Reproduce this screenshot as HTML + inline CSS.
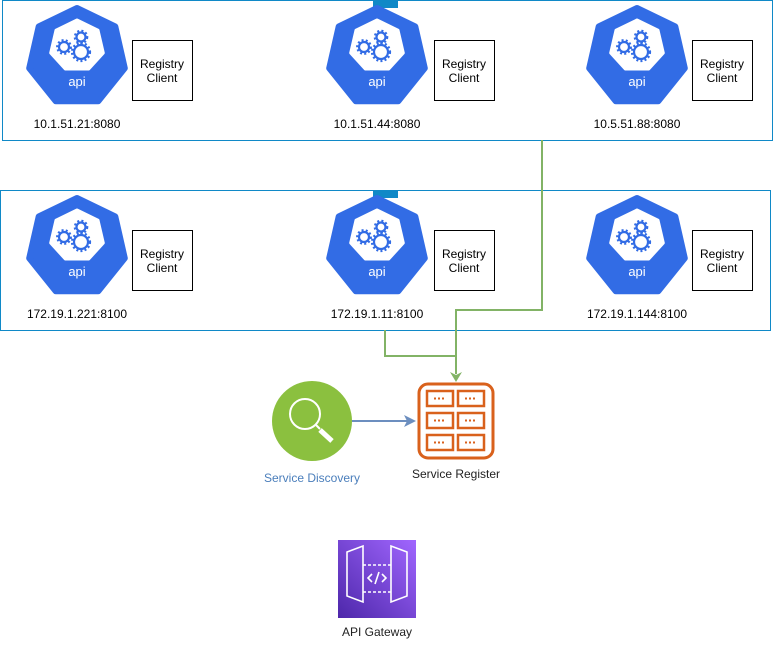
<!DOCTYPE html>
<html><head><meta charset="utf-8"><style>
html,body{margin:0;padding:0;background:#fff;}
svg text{font-family:"Liberation Sans",Arial,sans-serif;}
</style></head><body>
<svg width="773" height="640" viewBox="0 0 773 640" xmlns="http://www.w3.org/2000/svg">
<defs>
<linearGradient id="pg" x1="0" y1="1" x2="1" y2="0"><stop offset="0" stop-color="#4D27AA"/><stop offset="1" stop-color="#A166FF"/></linearGradient>
<g id="k8s">
<polygon points="0,-49 38.3,-30.6 47.8,11.2 21.3,44.2 -21.3,44.2 -47.8,11.2 -38.3,-30.6" fill="#326ce5" stroke="#326ce5" stroke-width="6" stroke-linejoin="round" transform="translate(0,2)"/>
<polygon points="0,-27 21,-16.8 26.3,6 11.7,22 -11.7,22 -26.3,6 -21,-16.8" fill="#fff" stroke="#fff" stroke-width="3" stroke-linejoin="round" transform="translate(0,-8)"/>
<g fill="none" stroke="#326ce5" stroke-width="2.2">
<circle cx="-13" cy="-8" r="5"/><circle cx="4" cy="-3" r="7"/><circle cx="4" cy="-18" r="4.5"/>
</g>
<g stroke="#326ce5" stroke-width="2.2" stroke-dasharray="2 2.2" fill="none">
<circle cx="-13" cy="-8" r="6.8"/><circle cx="4" cy="-3" r="9"/><circle cx="4" cy="-18" r="6.2"/>
</g>
</g>
</defs>
<rect x="2.5" y="0.5" width="770" height="140" fill="none" stroke="#1089c7"/>
<rect x="373" y="0" width="25" height="8" fill="#1089c7"/>
<rect x="0.5" y="190.5" width="770" height="140" fill="none" stroke="#1089c7"/>
<rect x="373" y="190" width="25" height="8" fill="#1089c7"/>

<g>
<use href="#k8s" x="77" y="55"/><use href="#k8s" x="377" y="55"/><use href="#k8s" x="637" y="55"/>
<use href="#k8s" x="77" y="245"/><use href="#k8s" x="377" y="245"/><use href="#k8s" x="637" y="245"/>
</g>
<g font-size="13" fill="#fff" text-anchor="middle">
<text x="77" y="86">api</text><text x="377" y="86">api</text><text x="637" y="86">api</text>
<text x="77" y="276">api</text><text x="377" y="276">api</text><text x="637" y="276">api</text>
</g>
<g fill="#fff" stroke="#000">
<rect x="132.5" y="40.5" width="60" height="60"/><rect x="434.5" y="40.5" width="60" height="60"/><rect x="692.5" y="40.5" width="60" height="60"/>
<rect x="132.5" y="230.5" width="60" height="60"/><rect x="434.5" y="230.5" width="60" height="60"/><rect x="692.5" y="230.5" width="60" height="60"/>
</g>
<g font-size="12" fill="#000" text-anchor="middle">
<text x="162" y="68">Registry</text><text x="162" y="82">Client</text>
<text x="464" y="68">Registry</text><text x="464" y="82">Client</text>
<text x="722" y="68">Registry</text><text x="722" y="82">Client</text>
<text x="162" y="258">Registry</text><text x="162" y="272">Client</text>
<text x="464" y="258">Registry</text><text x="464" y="272">Client</text>
<text x="722" y="258">Registry</text><text x="722" y="272">Client</text>
<text x="77" y="128">10.1.51.21:8080</text><text x="377" y="128">10.1.51.44:8080</text><text x="637" y="128">10.5.51.88:8080</text>
<text x="77" y="318">172.19.1.221:8100</text><text x="377" y="318">172.19.1.11:8100</text><text x="637" y="318">172.19.1.144:8100</text>
</g>

<g fill="none" stroke="#82b366" stroke-width="2">
<polyline points="542,140 542,310 456,310 456,374"/>
<polyline points="385,330 385,356 456,356"/>
</g>
<polygon points="450,372 456,382 462,372 456,375" fill="#82b366"/>

<circle cx="312" cy="421" r="40" fill="#8bc03f"/>
<circle cx="305" cy="414" r="15" fill="none" stroke="#fff" stroke-width="2"/>
<line x1="316" y1="425" x2="320" y2="429" stroke="#fff" stroke-width="2"/>
<line x1="320" y1="430" x2="332" y2="441" stroke="#fff" stroke-width="5"/>
<line x1="352" y1="421" x2="410" y2="421" stroke="#6c8ebf" stroke-width="2"/>
<polygon points="404,415 416,421 404,427 407,421" fill="#6c8ebf"/>

<rect x="419" y="384" width="74" height="74" rx="9" fill="none" stroke="#d9611c" stroke-width="3"/>
<g fill="none" stroke="#d9611c" stroke-width="2.5">
<rect x="427" y="391" width="26" height="15"/><rect x="458" y="391" width="26" height="15"/>
<rect x="427" y="413" width="26" height="15"/><rect x="458" y="413" width="26" height="15"/>
<rect x="427" y="435" width="26" height="15"/><rect x="458" y="435" width="26" height="15"/>
</g>
<g stroke="#d9611c" stroke-width="2" stroke-dasharray="2 2">
<line x1="434" y1="398.5" x2="446" y2="398.5"/><line x1="465" y1="398.5" x2="477" y2="398.5"/>
<line x1="434" y1="420.5" x2="446" y2="420.5"/><line x1="465" y1="420.5" x2="477" y2="420.5"/>
<line x1="434" y1="442.5" x2="446" y2="442.5"/><line x1="465" y1="442.5" x2="477" y2="442.5"/>
</g>
<text x="312" y="482" font-size="12" fill="#4a7ebb" text-anchor="middle">Service Discovery</text>
<text x="456" y="478" font-size="12" fill="#222" text-anchor="middle">Service Register</text>

<rect x="338" y="540" width="78" height="78" fill="url(#pg)"/>
<g fill="none" stroke="#fff" stroke-width="1.6">
<polygon points="347,552 363,546 363,602 347,596"/>
<polygon points="407,552 391,546 391,602 407,596"/>
<line x1="363" y1="565" x2="391" y2="565" stroke-dasharray="3 2"/>
<line x1="363" y1="592" x2="391" y2="592" stroke-dasharray="3 2"/>
<polyline points="372,574 368,578 372,582"/><polyline points="382,574 386,578 382,582"/>
<line x1="379" y1="572" x2="375" y2="584"/>
</g>
<text x="377" y="636" font-size="12" fill="#222" text-anchor="middle">API Gateway</text>
</svg>
</body></html>
